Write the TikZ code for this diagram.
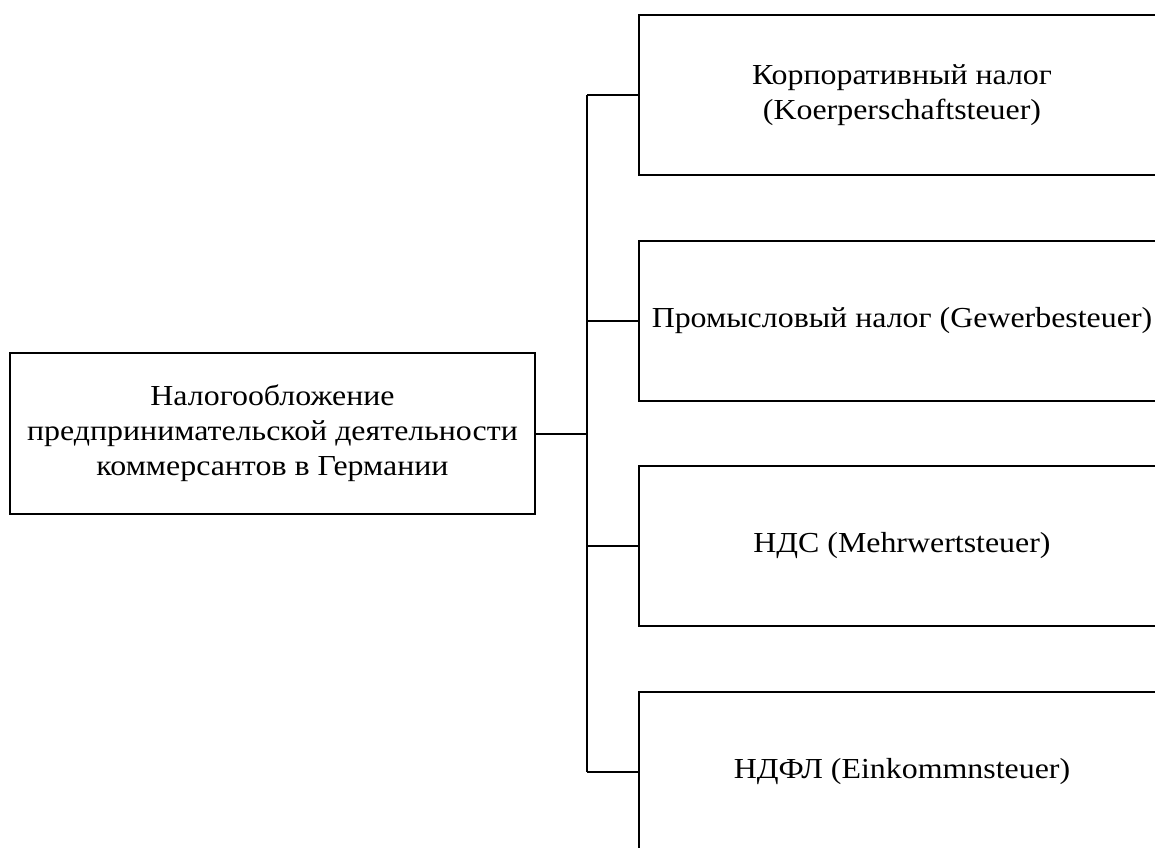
\documentclass[tikz,border=0pt]{standalone}
\usepackage{fontspec}
\setmainfont{Liberation Serif}[FakeStretch=1.1]
\usepackage{tikz}

\begin{document}
\begin{tikzpicture}[x=1pt, y=-1pt,
	taxbox/.style={shape=rectangle, draw=black, line width=2pt, align=center,
		font=\fontsize{29}{35}\selectfont, inner sep=0pt},
	link/.style={line width=2pt}]
	\clip (0, 0) rectangle (1155, 847);
	\fill[white] (0, 0) rectangle (1155, 847);

	\node[taxbox, minimum width=525, minimum height=161] (main) at (272.5, 433.5) {Налогообложение\\предпринимательской деятельности\\коммерсантов в Германии};

	\node[taxbox, minimum width=526, minimum height=160] (t1) at (902, 95) {Корпоративный налог\\(Koerperschaftsteuer)};
	\node[taxbox, minimum width=526, minimum height=160] (t2) at (902, 320.5) {Промысловый налог (Gewerbesteuer)};
	\node[taxbox, minimum width=526, minimum height=160] (t3) at (902, 546) {НДС (Mehrwertsteuer)};
	\node[taxbox, minimum width=526, minimum height=160] (t4) at (902, 771.5) {НДФЛ (Einkommnsteuer)};

	\coordinate (j0) at (587, 433.5);
	\coordinate (j1) at (587, 95);
	\coordinate (j2) at (587, 320.5);
	\coordinate (j3) at (587, 546);
	\coordinate (j4) at (587, 771.5);

	\draw[link] (main.east) -- (j0);
	\draw[link] (j1) -- (j4);
	\draw[link] (j1) -- (t1.west);
	\draw[link] (j2) -- (t2.west);
	\draw[link] (j3) -- (t3.west);
	\draw[link] (j4) -- (t4.west);

\end{tikzpicture}
\end{document}
